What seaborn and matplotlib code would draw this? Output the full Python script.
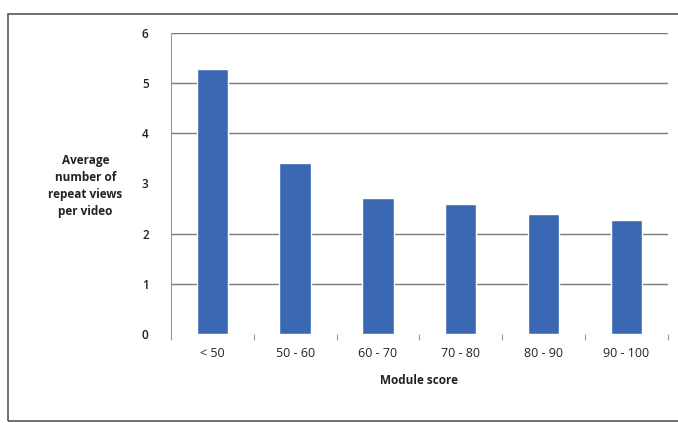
import matplotlib
matplotlib.use("Agg")
import matplotlib.pyplot as plt
import seaborn as sns
import pandas as pd
from matplotlib.patches import Rectangle

categories = ["< 50", "50 - 60", "60 - 70", "70 - 80", "80 - 90", "90 - 100"]
values = [5.28, 3.40, 2.70, 2.58, 2.40, 2.28]
yticks = [0, 1, 2, 3, 4, 5, 6]

sns.set_theme(style="white")
plt.rcParams['font.family'] = ['Open Sans', 'DejaVu Sans']

df = pd.DataFrame({"cat": categories, "val": values})

fig = plt.figure(figsize=(6.78, 4.23), dpi=100)
fig.patch.set_facecolor("white")
ax = fig.add_axes([0.252, 0.21, 0.733, 0.713])

sns.barplot(data=df, x="cat", y="val", color="#3A68B2", width=0.38,
            saturation=1, ax=ax, zorder=3)

ax.set_ylim(0, 6)
ax.set_xlim(-0.5, 5.5)
ax.set_yticks(yticks)
ax.set_yticklabels([str(t) for t in yticks], fontsize=8.5, color="#222222", fontweight="semibold")
for t in yticks[1:]:
    if t != 3:
        ax.axhline(t, color="#7a7a7a", lw=1.0, zorder=1)

for s in ["top", "right", "bottom"]:
    ax.spines[s].set_visible(False)
ax.spines["left"].set_color("#9a9a9a")
ax.spines["left"].set_linewidth(0.8)

ax.tick_params(axis="y", length=0, pad=16)
ax.set_xticks(range(len(categories)))
ax.set_xticks([i + 0.5 for i in range(-1, len(categories))], minor=True)
ax.tick_params(axis="x", which="major", length=0, pad=9, labelsize=9, labelcolor="#222222")
ax.tick_params(axis="x", which="minor", bottom=True, length=4, color="#9a9a9a",
               width=0.8, direction="out")

ax.set_xlabel("Module score", fontsize=8.5, fontweight="bold", labelpad=10, color="#222222")
ax.set_ylabel("")
fig.text(0.126, 0.56, "Average\nnumber of\nrepeat views\nper video", ha="center", va="center",
         fontsize=8.5, fontweight="bold", color="#222222", linespacing=1.4)

fig.patches.append(Rectangle((0.012, 0.004), 1.1, 0.962, transform=fig.transFigure,
                             fill=False, edgecolor="#555555", lw=1.2))

fig.savefig("out.png", dpi=100)
